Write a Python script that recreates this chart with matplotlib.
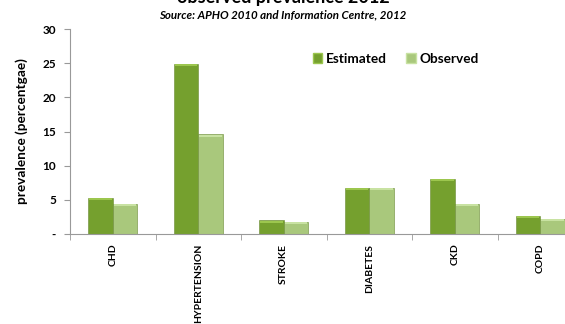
import numpy as np
import matplotlib.pyplot as plt
from matplotlib.patches import Patch

categories = ["CHD", "HYPERTENSION", "STROKE", "DIABETES", "CKD", "COPD"]
estimated = [5.3, 24.9, 2.0, 6.8, 8.1, 2.7]
observed = [4.4, 14.6, 1.8, 6.8, 4.4, 2.2]

est_col = "#75a02e"
est_top = "#9cc64e"
obs_col = "#a9c87c"
obs_top = "#c8e2a2"

plt.rcParams['font.family'] = ['Lato', 'DejaVu Sans']

fig = plt.figure(figsize=(5.65, 3.24), dpi=100)
ax = fig.add_axes([70 / 565, 1 - 234 / 324, 513 / 565, 205 / 324])

x = np.arange(len(categories))
w = 0.287

def draw_bars(xs, vals, col, top):
    bars = ax.bar(xs, vals, w, color=col, edgecolor="#6a8a34", linewidth=0.4, zorder=2)
    # lighter cap along the top of each bar
    for b in bars:
        h = b.get_height()
        ax.bar(b.get_x() + w / 2, 0.3, w * 0.9, bottom=h - 0.35,
               color=top, linewidth=0, zorder=3)
    return bars

draw_bars(x - w / 2, estimated, est_col, est_top)
draw_bars(x + w / 2, observed, obs_col, obs_top)

ax.set_xlim(-0.5, len(categories) - 0.5)
ax.set_ylim(0, 30)
ax.set_yticks([0, 5, 10, 15, 20, 25, 30])
ax.set_yticklabels(["-", "5", "10", "15", "20", "25", "30"],
                   fontsize=8.5, fontweight="bold")
ax.set_xticks(x)
ax.set_xticklabels(categories, rotation=90, fontsize=7.5, fontweight="bold")
ax.tick_params(axis="x", length=0, pad=7)
ax.set_xticks(np.arange(len(categories) + 1) - 0.5, minor=True)
ax.tick_params(axis="x", which="minor", length=4, color="#999999", direction="out")
ax.tick_params(axis="y", length=4, color="#999999", pad=6)

for s in ["top", "right"]:
    ax.spines[s].set_visible(False)
for s in ["left", "bottom"]:
    ax.spines[s].set_color("#999999")
    ax.spines[s].set_linewidth(0.8)

ax.set_ylabel("prevalence (percentgae)", fontsize=9.8, fontweight="bold", labelpad=10)

handles = [Patch(facecolor=est_col, edgecolor="#9cc64e", label="Estimated"),
           Patch(facecolor=obs_col, edgecolor="#c8e2a2", label="Observed")]
fig.legend(handles=handles, loc="center", bbox_to_anchor=(396 / 565, 1 - 59 / 324),
           ncol=2, frameon=False, handlelength=0.7, handleheight=0.7,
           handletextpad=0.3, columnspacing=1.4, prop={"weight": "bold", "size": 9.8})

fig.text(283 / 565, 1 - 3 / 324, "observed prevalence 2012", ha="center",
         va="baseline", fontsize=13, fontweight="bold")
fig.text(283 / 565, 1 - 15 / 324, "Source: APHO 2010 and Information Centre, 2012",
         ha="center", va="center", fontsize=8.3, fontweight="bold", style="italic")

fig.savefig("out.png", dpi=100)
